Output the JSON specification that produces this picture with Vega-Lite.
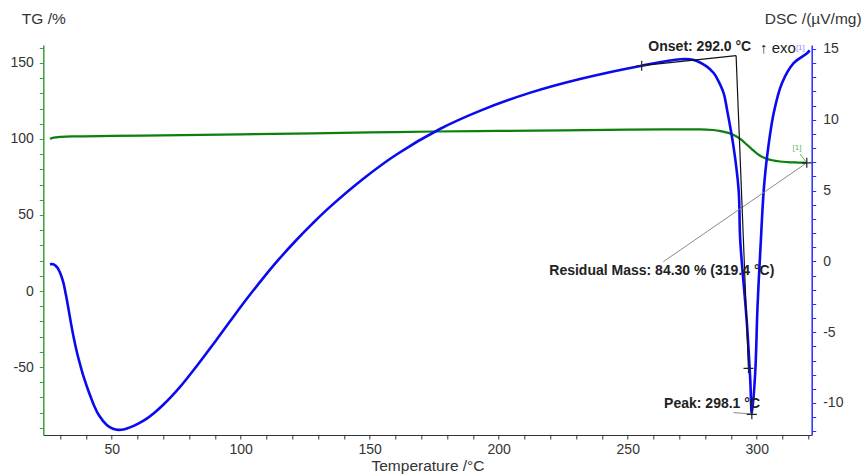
{
  "$schema": "https://vega.github.io/schema/vega-lite/v6.json",
  "width": 768.4,
  "height": 390,
  "autosize": {"type": "none"},
  "padding": {"left": 43.3, "top": 45, "right": 55.3, "bottom": 39},
  "background": "white",
  "config": {
    "view": {"stroke": null},
    "font": "Liberation Sans",
    "axis": {"grid": false, "labelFont": "Liberation Sans", "titleFont": "Liberation Sans", "labelFontSize": 14, "titleFontSize": 15.5, "titleFontWeight": "normal", "labelColor": "#333333", "titleColor": "#333333", "tickSize": 4}
  },
  "datasets": {
    "tg": [
      {"T": 26.1, "TG": 100.0}, {"T": 27, "TG": 100.6}, {"T": 28.5, "TG": 101.1}, {"T": 30.5, "TG": 101.4},
      {"T": 35, "TG": 101.7}, {"T": 50, "TG": 102.0}, {"T": 100, "TG": 103.0}, {"T": 150, "TG": 104.3},
      {"T": 175, "TG": 104.9}, {"T": 200, "TG": 105.3}, {"T": 225, "TG": 105.7}, {"T": 250, "TG": 106.1},
      {"T": 270, "TG": 106.3}, {"T": 278, "TG": 106.3}, {"T": 283, "TG": 105.9}, {"T": 286, "TG": 105.2},
      {"T": 289, "TG": 104.0}, {"T": 292, "TG": 101.8}, {"T": 294, "TG": 99.5}, {"T": 296, "TG": 96.5},
      {"T": 298, "TG": 93.5}, {"T": 300, "TG": 90.5}, {"T": 302, "TG": 88.3}, {"T": 304, "TG": 86.9},
      {"T": 306, "TG": 86.0}, {"T": 309, "TG": 85.2}, {"T": 312, "TG": 84.8}, {"T": 316, "TG": 84.5},
      {"T": 319.4, "TG": 84.3}
    ],
    "dsc": [
      {"T": 26.1, "DSC": -0.2}, {"T": 27.3, "DSC": -0.2}, {"T": 28.2, "DSC": -0.3}, {"T": 29.0, "DSC": -0.45},
      {"T": 30.0, "DSC": -0.8}, {"T": 31.2, "DSC": -1.45}, {"T": 32.3, "DSC": -2.4}, {"T": 33.3, "DSC": -3.4},
      {"T": 34.3, "DSC": -4.45}, {"T": 35.3, "DSC": -5.4}, {"T": 36.5, "DSC": -6.4}, {"T": 37.8, "DSC": -7.3},
      {"T": 39.3, "DSC": -8.25}, {"T": 41.0, "DSC": -9.15}, {"T": 43.0, "DSC": -10.1}, {"T": 45.0, "DSC": -10.85},
      {"T": 48.1, "DSC": -11.55}, {"T": 50.5, "DSC": -11.82}, {"T": 52.6, "DSC": -11.9}, {"T": 55.0, "DSC": -11.85},
      {"T": 57.1, "DSC": -11.72}, {"T": 60.3, "DSC": -11.45}, {"T": 63.6, "DSC": -11.1}, {"T": 66.8, "DSC": -10.65},
      {"T": 70.0, "DSC": -10.12}, {"T": 73.2, "DSC": -9.53}, {"T": 76.5, "DSC": -8.86}, {"T": 79.7, "DSC": -8.15},
      {"T": 82.9, "DSC": -7.41}, {"T": 89.4, "DSC": -5.84}, {"T": 95.8, "DSC": -4.25}, {"T": 102.3, "DSC": -2.66},
      {"T": 108.7, "DSC": -1.18}, {"T": 115.0, "DSC": 0.19}, {"T": 121.6, "DSC": 1.51}, {"T": 128.0, "DSC": 2.7},
      {"T": 134.5, "DSC": 3.83}, {"T": 147.4, "DSC": 5.82}, {"T": 160.4, "DSC": 7.55}, {"T": 177.2, "DSC": 9.35},
      {"T": 192.7, "DSC": 10.63}, {"T": 212.0, "DSC": 11.9}, {"T": 231.5, "DSC": 12.88}, {"T": 255.4, "DSC": 13.82},
      {"T": 270.4, "DSC": 14.27}, {"T": 275.6, "DSC": 14.22},
      {"T": 280.7, "DSC": 13.75}, {"T": 283.3, "DSC": 13.3}, {"T": 284.6, "DSC": 12.93}, {"T": 287.2, "DSC": 11.87},
      {"T": 288.5, "DSC": 10.7}, {"T": 291.0, "DSC": 8.1}, {"T": 293.0, "DSC": 5.0}, {"T": 293.6, "DSC": 1.5},
      {"T": 296.2, "DSC": -4.4}, {"T": 297.5, "DSC": -8.4}, {"T": 298.1, "DSC": -10.8}, {"T": 299.4, "DSC": -7.9},
      {"T": 300.3, "DSC": -3.2}, {"T": 301.6, "DSC": 1.5}, {"T": 302.7, "DSC": 5.0}, {"T": 304.0, "DSC": 7.4},
      {"T": 306.6, "DSC": 10.5}, {"T": 309.8, "DSC": 12.6}, {"T": 314.3, "DSC": 14.0}, {"T": 319.5, "DSC": 14.7},
      {"T": 320.5, "DSC": 14.9}
    ]
  },
  "resolve": {"scale": {"x": "independent", "y": "independent"}},
  "layer": [
    {
      "data": {"name": "tg"},
      "mark": {"type": "line", "color": "#0c7f0c", "strokeWidth": 2.2, "interpolate": "monotone"},
      "encoding": {
        "x": {"field": "T", "type": "quantitative", "scale": {"domain": [23.5, 321.3], "nice": false, "zero": false},
          "axis": {"orient": "bottom", "values": [30,40,50,60,70,80,90,100,110,120,130,140,150,160,170,180,190,200,210,220,230,240,250,260,270,280,290,300,310,320],
            "labelExpr": "datum.value % 50 === 0 ? '' + datum.value : ''", "domainColor": "#333333", "tickColor": "#333333", "labelPadding": 3,
            "title": "Temperature /°C", "titlePadding": 2}},
        "y": {"field": "TG", "type": "quantitative", "scale": {"domain": [-94.7, 161.8], "nice": false, "zero": false},
          "axis": {"orient": "left", "values": [-90,-80,-70,-60,-50,-40,-30,-20,-10,0,10,20,30,40,50,60,70,80,90,100,110,120,130,140,150,160],
            "labelExpr": "datum.value % 50 === 0 ? '' + datum.value : ''", "domainColor": "#3a9e3a", "tickColor": "#3a9e3a", "domainWidth": 1.5, "labelPadding": 6,
            "title": "TG /%", "titleAngle": 0, "titleX": 0, "titleY": -27, "titleAlign": "center", "titleBaseline": "middle"}}
      }
    },
    {
      "data": {"name": "dsc"},
      "mark": {"type": "line", "color": "#0a0af0", "strokeWidth": 2.6, "interpolate": "catmull-rom"},
      "encoding": {
        "x": {"field": "T", "type": "quantitative", "scale": {"domain": [23.5, 321.3], "nice": false, "zero": false}, "axis": null},
        "y": {"field": "DSC", "type": "quantitative", "scale": {"domain": [-12.26, 15.28], "nice": false, "zero": false},
          "axis": {"orient": "right", "values": [-12,-11,-10,-9,-8,-7,-6,-5,-4,-3,-2,-1,0,1,2,3,4,5,6,7,8,9,10,11,12,13,14,15],
            "labelExpr": "datum.value % 5 === 0 ? '' + datum.value : ''", "domainColor": "#2a2aff", "tickColor": "#2a2aff", "domainWidth": 1.5, "labelPadding": 7,
            "title": "DSC /(µV/mg)", "titleAngle": 0, "titleX": 1, "titleY": -27, "titleAlign": "center", "titleBaseline": "middle"}}
      }
    },
    {
      "data": {"values": [
        {"T": 263.8, "TG": 19.3, "T2": 319.4, "TG2": 84.3}
      ]},
      "mark": {"type": "rule", "strokeWidth": 1, "color": "#8a8a8a"},
      "encoding": {
        "x": {"field": "T", "type": "quantitative", "scale": {"domain": [23.5, 321.3], "nice": false, "zero": false}, "axis": null},
        "x2": {"field": "T2"},
        "y": {"field": "TG", "type": "quantitative", "scale": {"domain": [-94.7, 161.8], "nice": false, "zero": false}, "axis": null},
        "y2": {"field": "TG2"}
      }
    },
    {
      "data": {"values": [
        {"T": 316.8, "TG": 90.1, "T2": 319.2, "TG2": 84.7}
      ]},
      "mark": {"type": "rule", "strokeWidth": 1, "color": "#5cb85c"},
      "encoding": {
        "x": {"field": "T", "type": "quantitative", "scale": {"domain": [23.5, 321.3], "nice": false, "zero": false}, "axis": null},
        "x2": {"field": "T2"},
        "y": {"field": "TG", "type": "quantitative", "scale": {"domain": [-94.7, 161.8], "nice": false, "zero": false}, "axis": null},
        "y2": {"field": "TG2"}
      }
    },
    {
      "data": {"values": [
        {"T": 255.4, "DSC": 13.82, "T2": 292.0, "DSC2": 14.53},
        {"T": 292.0, "DSC": 14.53, "T2": 296.8, "DSC2": -7.55}
      ]},
      "mark": {"type": "rule", "strokeWidth": 1.2, "color": "#111111"},
      "encoding": {
        "x": {"field": "T", "type": "quantitative", "scale": {"domain": [23.5, 321.3], "nice": false, "zero": false}, "axis": null},
        "x2": {"field": "T2"},
        "y": {"field": "DSC", "type": "quantitative", "scale": {"domain": [-12.26, 15.28], "nice": false, "zero": false}, "axis": null},
        "y2": {"field": "DSC2"}
      }
    },
    {
      "data": {"values": [
        {"T": 291.0, "DSC": -10.68, "T2": 298.5, "DSC2": -10.78}
      ]},
      "mark": {"type": "rule", "strokeWidth": 1, "color": "#8a8a8a"},
      "encoding": {
        "x": {"field": "T", "type": "quantitative", "scale": {"domain": [23.5, 321.3], "nice": false, "zero": false}, "axis": null},
        "x2": {"field": "T2"},
        "y": {"field": "DSC", "type": "quantitative", "scale": {"domain": [-12.26, 15.28], "nice": false, "zero": false}, "axis": null},
        "y2": {"field": "DSC2"}
      }
    },
    {
      "data": {"values": [{"T": 319.4, "TG": 84.3}]},
      "mark": {"type": "point", "shape": "M-1,0H1M0,-1V1", "size": 100, "filled": false, "stroke": "#222222", "strokeWidth": 1.2, "opacity": 1},
      "encoding": {
        "x": {"field": "T", "type": "quantitative", "scale": {"domain": [23.5, 321.3], "nice": false, "zero": false}, "axis": null},
        "y": {"field": "TG", "type": "quantitative", "scale": {"domain": [-94.7, 161.8], "nice": false, "zero": false}, "axis": null}
      }
    },
    {
      "data": {"values": [{"T": 255.4, "DSC": 13.82}, {"T": 296.8, "DSC": -7.55}, {"T": 298.1, "DSC": -10.8}]},
      "mark": {"type": "point", "shape": "M-1,0H1M0,-1V1", "size": 100, "filled": false, "stroke": "#222222", "strokeWidth": 1.2, "opacity": 1},
      "encoding": {
        "x": {"field": "T", "type": "quantitative", "scale": {"domain": [23.5, 321.3], "nice": false, "zero": false}, "axis": null},
        "y": {"field": "DSC", "type": "quantitative", "scale": {"domain": [-12.26, 15.28], "nice": false, "zero": false}, "axis": null}
      }
    },
    {
      "data": {"values": [{"T": 219.6, "TG": 13.2, "label": "Residual Mass: 84.30 % (319.4 °C)"}]},
      "mark": {"type": "text", "align": "left", "baseline": "middle", "fontSize": 14, "fontWeight": "bold", "color": "#222222"},
      "encoding": {
        "x": {"field": "T", "type": "quantitative", "scale": {"domain": [23.5, 321.3], "nice": false, "zero": false}, "axis": null},
        "y": {"field": "TG", "type": "quantitative", "scale": {"domain": [-94.7, 161.8], "nice": false, "zero": false}, "axis": null},
        "text": {"field": "label"}
      }
    },
    {
      "data": {"values": [{"T": 315.6, "TG": 94.1, "label": "[1]"}]},
      "mark": {"type": "text", "align": "center", "baseline": "middle", "fontSize": 8, "color": "#5cb85c"},
      "encoding": {
        "x": {"field": "T", "type": "quantitative", "scale": {"domain": [23.5, 321.3], "nice": false, "zero": false}, "axis": null},
        "y": {"field": "TG", "type": "quantitative", "scale": {"domain": [-94.7, 161.8], "nice": false, "zero": false}, "axis": null},
        "text": {"field": "label"}
      }
    },
    {
      "data": {"values": [
        {"T": 258.0, "DSC": 15.12, "label": "Onset: 292.0 °C"},
        {"T": 264.1, "DSC": -10.07, "label": "Peak: 298.1 °C"}
      ]},
      "mark": {"type": "text", "align": "left", "baseline": "middle", "fontSize": 14, "fontWeight": "bold", "color": "#222222"},
      "encoding": {
        "x": {"field": "T", "type": "quantitative", "scale": {"domain": [23.5, 321.3], "nice": false, "zero": false}, "axis": null},
        "y": {"field": "DSC", "type": "quantitative", "scale": {"domain": [-12.26, 15.28], "nice": false, "zero": false}, "axis": null},
        "text": {"field": "label"}
      }
    },
    {
      "data": {"values": [{"T": 301.3, "DSC": 15.05, "label": "↑ exo"}]},
      "mark": {"type": "text", "align": "left", "baseline": "middle", "fontSize": 15, "color": "#222222"},
      "encoding": {
        "x": {"field": "T", "type": "quantitative", "scale": {"domain": [23.5, 321.3], "nice": false, "zero": false}, "axis": null},
        "y": {"field": "DSC", "type": "quantitative", "scale": {"domain": [-12.26, 15.28], "nice": false, "zero": false}, "axis": null},
        "text": {"field": "label"}
      }
    },
    {
      "data": {"values": [{"T": 316.9, "DSC": 15.1, "label": "[1]"}]},
      "mark": {"type": "text", "align": "center", "baseline": "middle", "fontSize": 8, "color": "#8c8cff"},
      "encoding": {
        "x": {"field": "T", "type": "quantitative", "scale": {"domain": [23.5, 321.3], "nice": false, "zero": false}, "axis": null},
        "y": {"field": "DSC", "type": "quantitative", "scale": {"domain": [-12.26, 15.28], "nice": false, "zero": false}, "axis": null},
        "text": {"field": "label"}
      }
    }
  ]
}
